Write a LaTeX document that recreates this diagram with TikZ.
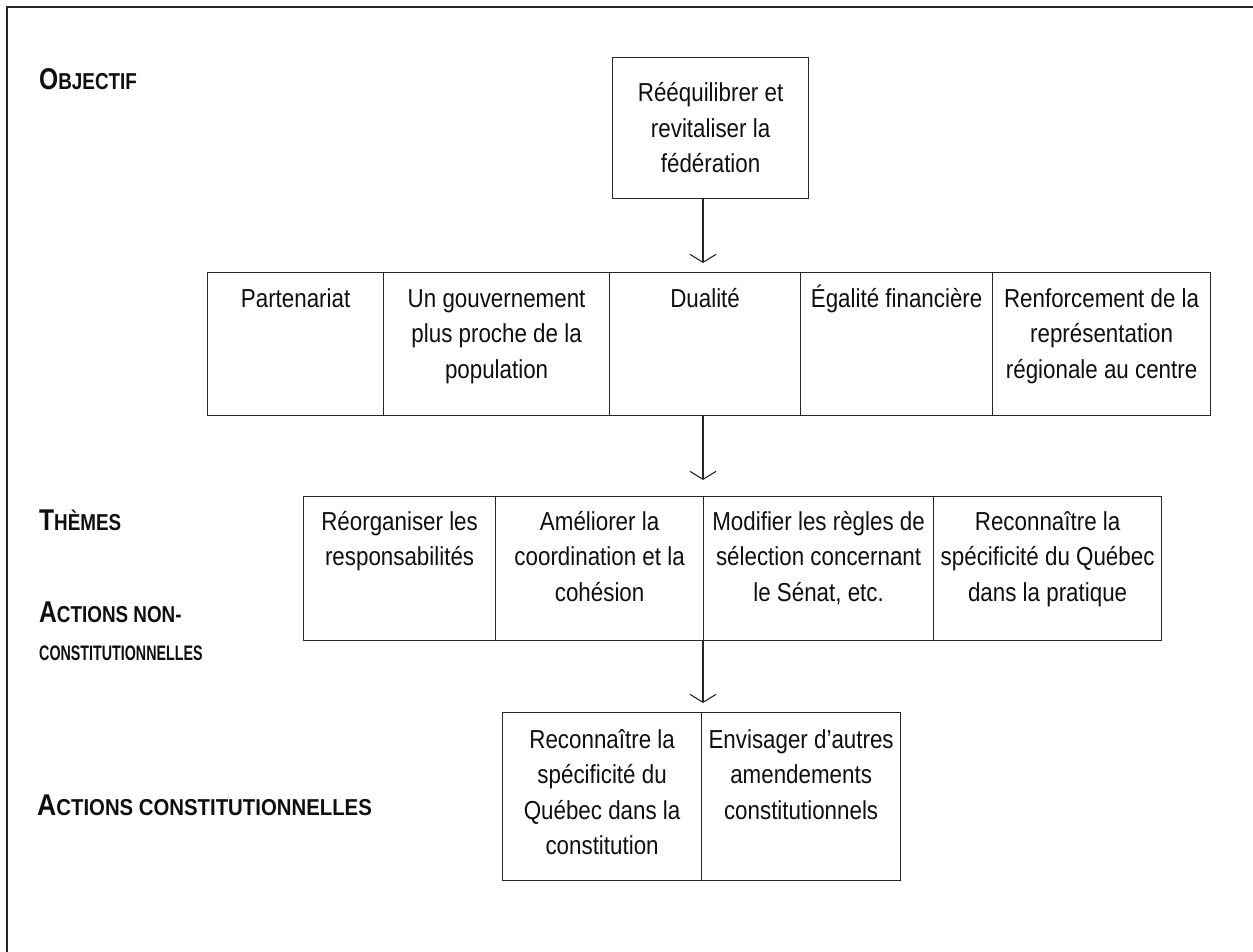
\documentclass[tikz,border=0pt]{standalone}
\usepackage{fontspec}
\setmainfont{Liberation Sans}[FakeStretch=0.86]
\newfontfamily\lblfont{Liberation Sans}[FakeStretch=0.82]
\newfontfamily\lblwide{Liberation Sans}[FakeStretch=0.885]
\newfontfamily\lblnarrow{Liberation Sans}[FakeStretch=0.68]
\usetikzlibrary{arrows.meta}
\definecolor{linec}{gray}{0.15}
\definecolor{txtc}{gray}{0.06}
\newcommand\SCap[2]{{\fontsize{30}{30}\selectfont #1}{\fontsize{23}{23}\selectfont #2}}
\newcommand\CellText[1]{\parbox[t]{300pt}{\centering #1}}
\tikzset{
  x=1pt, y=-1pt,
  frame/.style={draw=linec, line width=1.5pt},
  cell/.style={draw=linec, line width=1.2pt, inner sep=0pt, anchor=north west},
  txt/.style={inner sep=0pt, anchor=base, text=txtc, font=\fontsize{26}{35.5}\selectfont},
  lbl/.style={inner sep=0pt, anchor=base west, text=txtc, font=\lblfont\bfseries},
  conn/.style={draw=linec, line width=1.2pt, -{Straight Barb[length=8pt, width=26pt, line width=1.1pt]}},
}
\begin{document}
\begin{tikzpicture}
\useasboundingbox (0,0) rectangle (1253,952);
\draw[frame] (7,952) -- (7,7) -- (1253,7);

% labels
\node[lbl] (lobj) at (39,90) {\SCap{O}{BJECTIF}};
\node[lbl] (lthe) at (39,530) {\SCap{T}{HÈMES}};
\node[lbl] (lanc) at (39,622) {\SCap{A}{CTIONS NON-}};
\node[lbl, font=\lblnarrow\bfseries\fontsize{21}{21}\selectfont] (lanc2) at (39,660) {CONSTITUTIONNELLES};
\node[lbl, font=\lblwide\bfseries] (lac) at (37,815) {\SCap{A}{CTIONS CONSTITUTIONNELLES}};

% top box
\node[cell, minimum width=196pt, minimum height=141pt] (top) at (612,57) {};
\node[txt] (topt) at ([yshift=-45pt]top.north) {\CellText{Rééquilibrer et\\revitaliser la\\fédération}};

% row 2
\node[cell, minimum width=176pt, minimum height=143pt] (p1) at (207,272) {};
\node[cell, minimum width=226pt, minimum height=143pt] (p2) at (383,272) {};
\node[cell, minimum width=191pt, minimum height=143pt] (p3) at (609,272) {};
\node[cell, minimum width=192pt, minimum height=143pt] (p4) at (800,272) {};
\node[cell, minimum width=218pt, minimum height=143pt] (p5) at (992,272) {};
\node[txt] (p1t) at ([yshift=-35pt]p1.north) {\CellText{Partenariat}};
\node[txt] (p2t) at ([yshift=-35pt]p2.north) {\CellText{Un gouvernement\\plus proche de la\\population}};
\node[txt] (p3t) at ([yshift=-35pt]p3.north) {\CellText{Dualité}};
\node[txt] (p4t) at ([yshift=-35pt]p4.north) {\CellText{Égalité financière}};
\node[txt] (p5t) at ([yshift=-35pt]p5.north) {\CellText{Renforcement de la\\représentation\\régionale au centre}};

% row 3
\node[cell, minimum width=192pt, minimum height=144pt] (t1) at (303,496) {};
\node[cell, minimum width=208pt, minimum height=144pt] (t2) at (495,496) {};
\node[cell, minimum width=230pt, minimum height=144pt] (t3) at (703,496) {};
\node[cell, minimum width=228pt, minimum height=144pt] (t4) at (933,496) {};
\node[txt] (t1t) at ([yshift=-34pt]t1.north) {\CellText{Réorganiser les\\responsabilités}};
\node[txt] (t2t) at ([yshift=-34pt]t2.north) {\CellText{Améliorer la\\coordination et la\\cohésion}};
\node[txt] (t3t) at ([yshift=-34pt]t3.north) {\CellText{Modifier les règles de\\sélection concernant\\le Sénat, etc.}};
\node[txt] (t4t) at ([yshift=-34pt]t4.north) {\CellText{Reconnaître la\\spécificité du Québec\\dans la pratique}};

% bottom row
\node[cell, minimum width=199pt, minimum height=168pt] (b1) at (502,712) {};
\node[cell, minimum width=199pt, minimum height=168pt] (b2) at (701,712) {};
\node[txt] (b1t) at ([yshift=-36pt]b1.north) {\CellText{Reconnaître la\\spécificité du\\Québec dans la\\constitution}};
\node[txt] (b2t) at ([yshift=-36pt]b2.north) {\CellText{Envisager d’autres\\amendements\\constitutionnels}};

% connectors
\coordinate (a1) at (703,263);
\coordinate (a2) at (703,480);
\coordinate (a3) at (703,703);
\draw[conn] (top.south -| a1) -- (a1);
\draw[conn] (p3.south -| a2) -- (a2);
\draw[conn] (t3.south -| a3) -- (a3);
\end{tikzpicture}
\end{document}
